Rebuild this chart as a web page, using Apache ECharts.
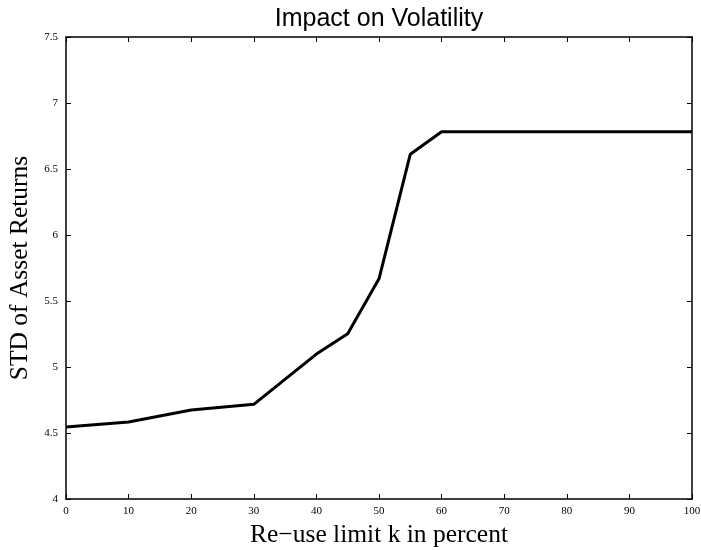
<!DOCTYPE html>
<html><head><meta charset="utf-8">
<script src="https://cdn.jsdelivr.net/npm/echarts@6/dist/echarts.min.js"></script>
<style>html,body{margin:0;padding:0;background:#fff}#c{width:701px;height:550px}</style>
</head><body><div id="c"></div>
<script>
const kValues = [0, 10, 20, 30, 40, 45, 50, 55, 60, 70, 80, 90, 100];
const stdValues = [4.545, 4.583, 4.674, 4.717, 5.098, 5.252, 5.668, 6.612, 6.782, 6.782, 6.782, 6.782, 6.782];
const titleText = 'Impact on Volatility';
const xName = 'Re\u2212use limit k in percent';
const yName = 'STD of Asset Returns';

const chart = echarts.init(document.getElementById('c'));
const serif = 'Liberation Serif';
const baseAxis = {
  axisLine: {show: true, onZero: false, lineStyle: {color: '#000', width: 1.5}},
  axisTick: {show: true, inside: true, length: 5, lineStyle: {color: '#000', width: 1}},
  splitLine: {show: false}
};
chart.setOption({
  animation: false,
  backgroundColor: '#fff',
  title: {text: titleText, left: 379, top: 7, padding: 0, textAlign: 'center',
    textStyle: {fontFamily: 'Liberation Sans', fontSize: 25, fontWeight: 'normal', color: '#000'}},
  grid: {left: 66, right: 9, top: 37, bottom: 51, containLabel: false, outerBoundsMode: 'none'},
  xAxis: [
    Object.assign({type: 'value', min: 0, max: 100, interval: 10, position: 'bottom',
      name: xName, nameLocation: 'middle', nameGap: 23.5,
      nameTextStyle: {fontFamily: serif, fontSize: 25.5, color: '#000'},
      axisLabel: {fontFamily: serif, fontSize: 11, color: '#000', margin: 7}}, baseAxis),
    Object.assign({type: 'value', min: 0, max: 100, interval: 10, position: 'top',
      axisLabel: {show: false}}, baseAxis)
  ],
  yAxis: [
    Object.assign({type: 'value', min: 4, max: 7.5, interval: 0.5, position: 'left',
      name: yName, nameLocation: 'middle', nameGap: 30,
      nameTextStyle: {fontFamily: serif, fontSize: 25.5, color: '#000'},
      axisLabel: {fontFamily: serif, fontSize: 11, color: '#000', margin: 8}}, baseAxis),
    Object.assign({type: 'value', min: 4, max: 7.5, interval: 0.5, position: 'right',
      axisLabel: {show: false}}, baseAxis)
  ],
  series: [{
    type: 'line',
    data: kValues.map((k, i) => [k, stdValues[i]]),
    showSymbol: false,
    lineStyle: {color: '#000', width: 3},
    itemStyle: {color: '#000'}
  }]
});
</script></body></html>
